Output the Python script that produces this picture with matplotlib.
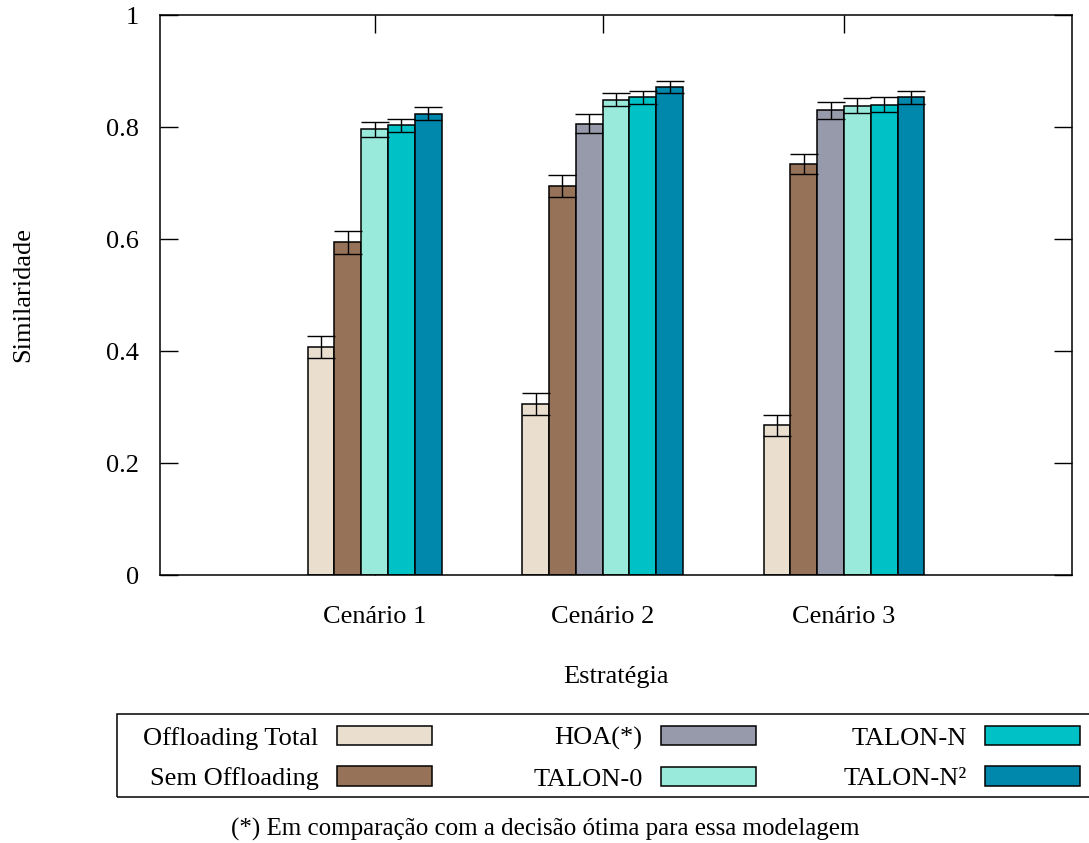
import matplotlib
matplotlib.use('Agg')
import matplotlib.pyplot as plt
import numpy as np
from matplotlib.patches import Patch, Rectangle

plt.rcParams['font.family'] = ['Liberation Serif', 'DejaVu Serif']
plt.rcParams['font.size'] = 19

cenarios = ['Cenário 1', 'Cenário 2', 'Cenário 3']
estrategias = ['Offloading Total', 'Sem Offloading', 'HOA(*)',
               'TALON-0', 'TALON-N', 'TALON-N²']

# similaridade media por cenario (HOA nao roda no cenario 1)
offloading_total = [0.407, 0.305, 0.267]
sem_offloading = [0.594, 0.695, 0.734]
hoa = [np.nan, 0.806, 0.830]
talon_0 = [0.796, 0.849, 0.838]
talon_n = [0.803, 0.853, 0.840]
talon_n2 = [0.824, 0.871, 0.853]

# intervalos de confianca
err_offloading_total = [0.020, 0.020, 0.018]
err_sem_offloading = [0.020, 0.020, 0.018]
err_hoa = [np.nan, 0.017, 0.015]
err_talon_0 = [0.013, 0.012, 0.013]
err_talon_n = [0.012, 0.012, 0.013]
err_talon_n2 = [0.012, 0.011, 0.0115]

valores = [offloading_total, sem_offloading, hoa, talon_0, talon_n, talon_n2]
erros = [err_offloading_total, err_sem_offloading, err_hoa,
         err_talon_0, err_talon_n, err_talon_n2]
cores = ['#EADFCF', '#967358', '#979AAA', '#9AEADC', '#00C2C6', '#0087AC']

W, H = 1089, 843
fig = plt.figure(figsize=(W / 100, H / 100), dpi=100)
ax = fig.add_axes([160 / W, (H - 575) / H, 912 / W, 560 / H])

inicio = [5.5, 13.5, 22.5]
larg = 1.0
centros = []
for g in range(len(cenarios)):
    x = inicio[g]
    for s in range(len(valores)):
        v = valores[s][g]
        if np.isnan(v):
            continue
        ax.bar(x, v, width=larg, align='edge', color=cores[s],
               edgecolor='black', linewidth=1.1, zorder=2)
        ax.errorbar(x + larg / 2, v, yerr=erros[s][g], fmt='none',
                    ecolor='black', elinewidth=1.0, capsize=10,
                    capthick=1.0, zorder=3)
        x += larg
    centros.append((inicio[g] + x) / 2)

ax.set_xlim(0, 34)
ax.set_ylim(0, 1)
ax.set_axisbelow(True)
ax.set_xticks(centros)
ax.set_xticklabels(cenarios)
ax.set_yticks([0, 0.2, 0.4, 0.6, 0.8, 1])
ax.set_yticklabels(['0', '0.2', '0.4', '0.6', '0.8', '1'])
ax.tick_params(axis='both', direction='in', length=13, width=1.0,
               top=True, right=True)
ax.tick_params(axis='x', pad=22)
ax.tick_params(axis='y', pad=15)
for sp in ax.spines.values():
    sp.set_linewidth(1.1)

ax.set_ylabel('Similaridade')
ax.yaxis.set_label_coords(-(160 - 34) / 912, 0.5)
ax.set_xlabel('Estratégia')
ax.xaxis.set_label_coords(0.5, -(666 - 575) / 560)

# legenda em tres colunas, texto a direita
handles = [Patch(facecolor=c, edgecolor='black', linewidth=1.1) for c in cores]
colunas = [(0, 1, 432), (2, 3, 756), (4, 5, 1080)]
for a, b, xr in colunas:
    fig.legend([handles[a], handles[b]], [estrategias[a], estrategias[b]],
               loc='upper right', bbox_to_anchor=(xr / W, (H - 726) / H),
               frameon=False, markerfirst=False, borderpad=0,
               borderaxespad=0, handlelength=3.6, handleheight=0.75,
               handletextpad=0.7, labelspacing=0.62)
fig.patches.append(Rectangle((117 / W, (H - 797) / H), 1000 / W, 83 / H,
                             transform=fig.transFigure, fill=False,
                             edgecolor='black', linewidth=1.1))

fig.text(545 / W, (H - 829) / H,
         '(*) Em comparação com a decisão ótima para essa modelagem',
         ha='center', va='center', fontsize=18)

fig.savefig('out.png', dpi=100)
